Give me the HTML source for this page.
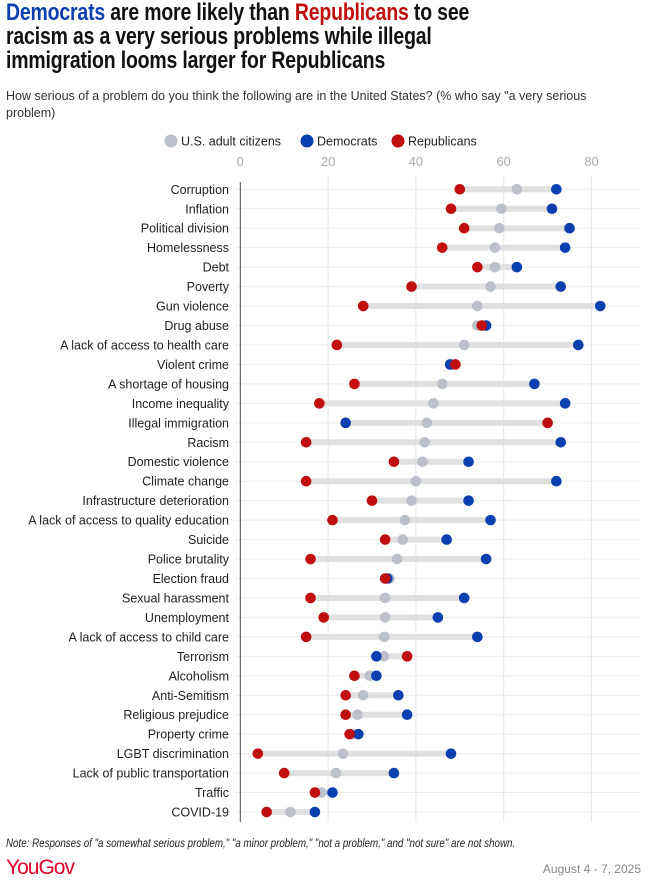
<!DOCTYPE html>
<html><head><meta charset="utf-8"><style>
body{margin:0;background:#fff;font-family:"Liberation Sans",sans-serif;}
#wrap{position:relative;width:649px;height:886px;overflow:hidden;}
h1{position:absolute;left:6px;top:1px;margin:0;font-size:24px;line-height:24px;font-weight:bold;color:#111;letter-spacing:-0.2px;white-space:nowrap;transform:scaleX(0.81);transform-origin:0 0;}
.sub{position:absolute;left:6px;top:88px;font-size:12.5px;line-height:17px;color:#333;white-space:nowrap;}
.note{position:absolute;left:6px;top:838px;font-size:11.5px;font-style:italic;color:#222;white-space:nowrap;transform:scaleX(0.85);transform-origin:0 0;}
.logo{position:absolute;left:6px;top:856px;font-size:21px;color:#e4002b;letter-spacing:-1px;}
.date{position:absolute;right:8px;top:862px;font-size:12px;color:#888;}
</style></head><body>
<div id="wrap">
<h1><span style="color:#0a3fb0">Democrats</span> are more likely than <span style="color:#c00d0d">Republicans</span> to see<br>racism as a very serious problems while illegal<br>immigration looms larger for Republicans</h1>
<div class="sub">How serious of a problem do you think the following are in the United States? (% who say "a very serious<br>problem)</div>
<svg id="chart" width="649" height="886" style="position:absolute;left:0;top:0"></svg>
<div class="note">Note: Responses of "a somewhat serious problem," "a minor problem," "not a problem," and "not sure" are not shown.</div>
<div class="logo">YouGov</div>
<div class="date">August 4 - 7, 2025</div>
</div>
<script>
const categories=["Corruption","Inflation","Political division","Homelessness","Debt","Poverty","Gun violence","Drug abuse","A lack of access to health care","Violent crime","A shortage of housing","Income inequality","Illegal immigration","Racism","Domestic violence","Climate change","Infrastructure deterioration","A lack of access to quality education","Suicide","Police brutality","Election fraud","Sexual harassment","Unemployment","A lack of access to child care","Terrorism","Alcoholism","Anti-Semitism","Religious prejudice","Property crime","LGBT discrimination","Lack of public transportation","Traffic","COVID-19"];
const allValues=[63,59.5,59,58,58,57,54,54,51,48,46,44,42.5,42,41.5,40,39,37.5,37,35.7,34,33,33,32.8,32.7,29.5,28,26.7,25.6,23.4,21.8,18.5,11.4];
const demValues=[72,71,75,74,63,73,82,56,77,47.8,67,74,24,73,52,72,52,57,47,56,33.5,51,45,54,31,31,36,38,26.9,48,35,21,17];
const repValues=[50,48,51,46,54,39,28,55,22,49,26,18,70,15,35,15,30,21,33,16,33,16,19,15,38,26,24,24,24.9,4,10,17,6];
const ticks=[0,20,40,60,80];
const NS="http://www.w3.org/2000/svg";
const svg=document.getElementById('chart');
const x=v=>240.3+v*4.39;
const y=i=>189.3+i*19.46;
function mk(t,a){const e=document.createElementNS(NS,t);for(const k in a)e.setAttribute(k,a[k]);svg.appendChild(e);return e;}
ticks.forEach(t=>{
  if(t>0){const l=mk('line',{x1:x(t),x2:x(t),y1:176,y2:822,stroke:'#e6e6e6','stroke-width':1});
  
  }
  const tx=mk('text',{x:x(t),y:166,'text-anchor':'middle','font-size':13,fill:'#aaa'});tx.textContent=t;
  
  
});
categories.forEach((c,i)=>{
  const g=mk('line',{x1:235,x2:640,y1:y(i),y2:y(i),stroke:'#ececec','stroke-width':1});
  
  
  const lb=mk('text',{x:229,y:y(i)+4.5,'text-anchor':'end','font-size':12.5,fill:'#222'});lb.textContent=c;
  
  
  const vs=[allValues[i],demValues[i],repValues[i]];
  const bar=mk('line',{x1:x(Math.min(...vs)),x2:x(Math.max(...vs)),y1:y(i),y2:y(i),stroke:'#e0e0e0','stroke-width':6});
  
  
  const a=mk('circle',{cx:x(allValues[i]),cy:y(i),r:5.3,fill:'#bcc0ca'});
  
  
  const d=mk('circle',{cx:x(demValues[i]),cy:y(i),r:5.3,fill:'#0a3fb0'});
  
  
  const r=mk('circle',{cx:x(repValues[i]),cy:y(i),r:5.3,fill:'#c00d0d'});
  
  
});
const ax=mk('line',{x1:240.3,x2:240.3,y1:182,y2:822,stroke:'#444','stroke-width':1});


const leg=[["U.S. adult citizens","#bcc0ca",171],["Democrats","#0a3fb0",307],["Republicans","#c00d0d",398]];
leg.forEach(l=>{
  const c=mk('circle',{cx:l[2],cy:141,r:6.5,fill:l[1]});
  
  
  const t=mk('text',{x:l[2]+10,y:145.5,'font-size':12.5,fill:'#222'});t.textContent=l[0];
  
  
});
</script>
</body></html>
